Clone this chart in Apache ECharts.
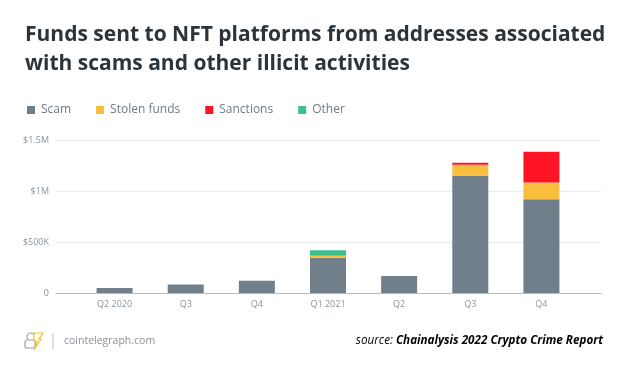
<!DOCTYPE html>
<html>
<head>
<meta charset="utf-8">
<script src="https://cdn.jsdelivr.net/npm/echarts@6/dist/echarts.min.js"></script>
<style>
  html, body { margin: 0; padding: 0; background: #fff; }
  #chart { width: 627px; height: 376px; }
</style>
</head>
<body>
<div id="chart"></div>
<script>
// quarters, values in USD
const categories = ['Q2 2020', 'Q3', 'Q4', 'Q1 2021', 'Q2', 'Q3', 'Q4'];
const scam = [49000, 84000, 121000, 346000, 167000, 1150000, 920000];
const stolenFunds = [0, 0, 0, 20000, 0, 108000, 164000];
const sanctions = [0, 0, 0, 0, 0, 19000, 301000];
const other = [0, 0, 0, 52000, 0, 0, 0];
const yTicks = [0, 500000, 1000000, 1500000];
const yTickLabels = ['0', '$500K', '$1M', '$1.5M'];

const FONT = '"Open Sans", "Noto Sans", sans-serif';
const Y_MAX = 1500000;

const makeSeries = (name, arr, color) => ({
    name: name,
    type: 'bar',
    stack: 'total',
    barWidth: 36,
    xAxisIndex: 1,
    yAxisIndex: 1,
    data: arr,
    itemStyle: { color: color },
    emphasis: { disabled: true }
});

const chart = echarts.init(document.getElementById('chart'), null, { renderer: 'canvas' });

const option = {
    animation: false,
    backgroundColor: '#fff',
    title: {
        text: 'Funds sent to NFT platforms from addresses associated\nwith scams and other illicit activities',
        left: 20,
        top: 16,
        textStyle: {
            fontFamily: FONT,
            fontWeight: 'bold',
            fontSize: 21,
            lineHeight: 29,
            color: '#2b343b'
        }
    },
    legend: {
        left: 22,
        top: 99,
        icon: 'rect',
        itemWidth: 8,
        itemHeight: 8,
        itemGap: 25,
        textStyle: { fontFamily: FONT, fontSize: 12, color: '#6f7a83', padding: [0, 0, 0, 1] },
        data: ['Scam', 'Stolen funds', 'Sanctions', 'Other']
    },
    // grid 0: wide frame for gridlines and baseline, grid 1: the bars
    grid: [
        { left: 56, right: 26, top: 140, bottom: 83 },
        { left: 79, right: 50, top: 140, bottom: 83 }
    ],
    xAxis: [{
        gridIndex: 0,
        type: 'value',
        min: 0,
        max: 1,
        splitLine: { show: false },
        axisTick: { show: false },
        axisLabel: { show: false },
        axisLine: { show: true, onZero: false, lineStyle: { color: '#b3bbc1', width: 1 } }
    }, {
        gridIndex: 1,
        type: 'category',
        data: categories,
        axisTick: { show: false },
        axisLine: { show: false },
        axisLabel: { fontFamily: FONT, fontSize: 9, color: '#8a949b', margin: 7 }
    }],
    yAxis: [{
        gridIndex: 0,
        type: 'value',
        min: 0,
        max: Y_MAX,
        interval: 500000,
        axisLine: { show: false },
        axisTick: { show: false },
        splitLine: { lineStyle: { color: '#e9ecee', width: 1 } },
        axisLabel: {
            fontFamily: FONT,
            fontSize: 9,
            color: '#8a949b',
            margin: 7,
            formatter: v => yTickLabels[yTicks.indexOf(v)]
        }
    }, {
        gridIndex: 1,
        type: 'value',
        min: 0,
        max: Y_MAX,
        show: false
    }],
    series: [
        makeSeries('Scam', scam, '#707f8a'),
        makeSeries('Stolen funds', stolenFunds, '#f9be3e'),
        makeSeries('Sanctions', sanctions, '#ff1426'),
        makeSeries('Other', other, '#3dbf91')
    ],
    graphic: [
        // small coin-stack logo
        { type: 'circle', shape: { cx: 31, cy: 337, r: 4 }, style: { fill: '#fff', stroke: '#9aa1a7', lineWidth: 1.2 } },
        { type: 'rect', shape: { x: 25, y: 340, width: 10, height: 8, r: 2 }, style: { fill: '#fff', stroke: '#9aa1a7', lineWidth: 1.2 } },
        { type: 'polygon', shape: { points: [[34, 333], [43, 333], [39, 339], [41, 339], [35, 348], [37, 341], [34, 341]] }, style: { fill: '#fff', stroke: '#f2c12e', lineWidth: 1.2 } },
        { type: 'line', shape: { x1: 53, y1: 333, x2: 53, y2: 349 }, style: { stroke: '#b9bfc4', lineWidth: 1 } },
        {
            type: 'text', left: 64, top: 336,
            style: { text: 'cointelegraph.com', font: '10.5px "Open Sans", sans-serif', fill: '#8b9298' }
        },
        {
            type: 'text', right: 24, top: 335,
            style: {
                text: '{a|source: }{b|Chainalysis 2022 Crypto Crime Report}',
                rich: {
                    a: { fontFamily: FONT, fontStyle: 'italic', fontSize: 11.7, color: '#8b9298' },
                    b: { fontFamily: FONT, fontStyle: 'italic', fontWeight: 'bold', fontSize: 11.7, color: '#3e4c57' }
                }
            }
        }
    ]
};

chart.setOption(option);
</script>
</body>
</html>
